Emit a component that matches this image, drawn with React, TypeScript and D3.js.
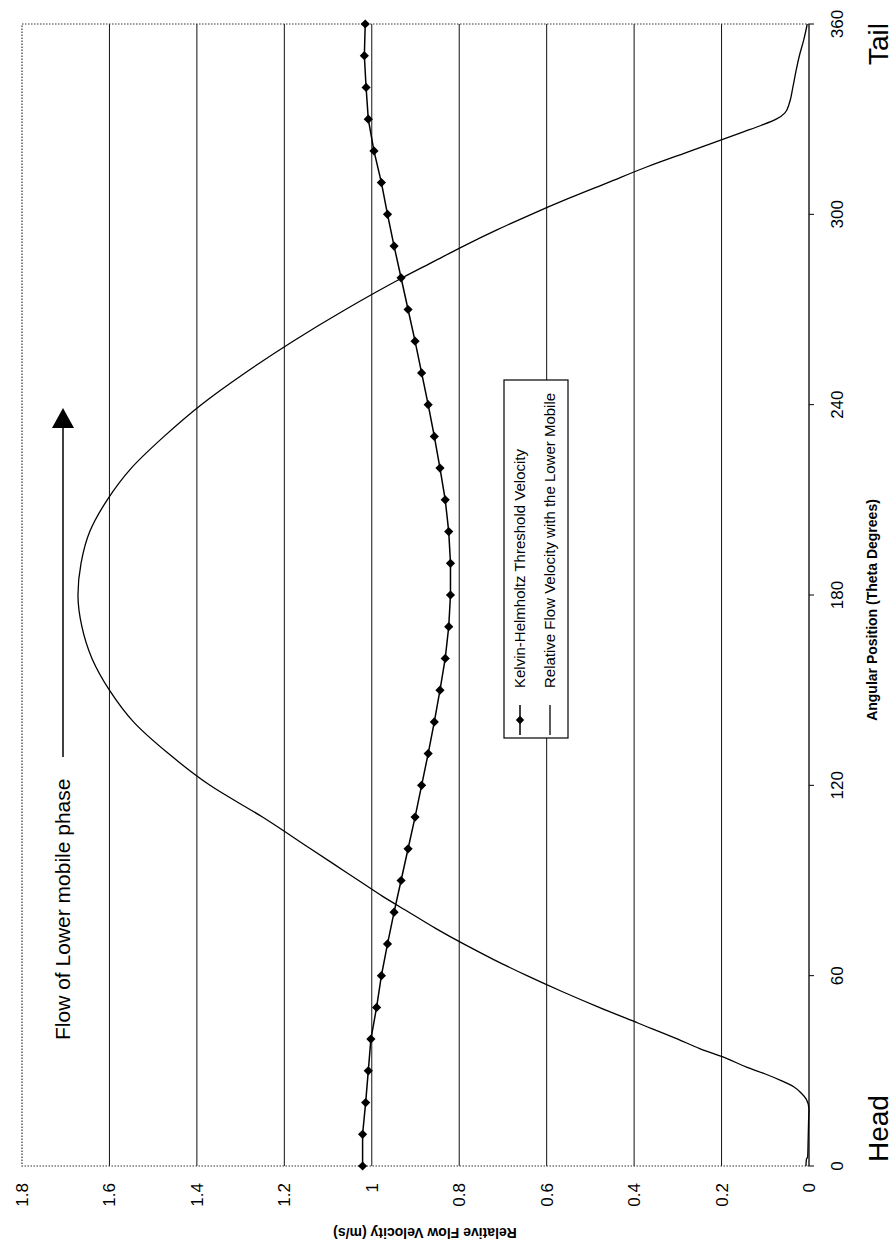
import React from "react";
import * as d3 from "d3";

// ---- data ----
const angleTicks = [0, 60, 120, 180, 240, 300, 360];
const velocityTicks = [0, 0.2, 0.4, 0.6, 0.8, 1, 1.2, 1.4, 1.6, 1.8];
const velocityTickLabels = ["0", "0.2", "0.4", "0.6", "0.8", "1", "1.2", "1.4", "1.6", "1.8"];

const khAngles = [0, 10, 20, 30, 40, 50, 60, 70, 80, 90, 100, 110, 120, 130, 140, 150, 160, 170, 180,
  190, 200, 210, 220, 230, 240, 250, 260, 270, 280, 290, 300, 310, 320, 330, 340, 350, 360];
const khVelocity = [1.021, 1.021, 1.014, 1.008, 1.002, 0.989, 0.978, 0.964, 0.949, 0.933, 0.917, 0.901,
  0.886, 0.871, 0.857, 0.844, 0.832, 0.824, 0.820, 0.820, 0.824, 0.832, 0.844, 0.857, 0.871, 0.886,
  0.901, 0.917, 0.933, 0.949, 0.964, 0.978, 0.995, 1.008, 1.013, 1.017, 1.015];

const flowAngles = [0, 2, 3, 8, 14, 18, 21, 23, 25, 27, 29, 31, 34, 37, 40, 45, 50, 55, 60, 65, 70, 75,
  80, 85, 90, 95, 100, 110, 120, 130, 140, 150, 160, 170, 180, 190, 200, 210, 220, 230, 240, 250, 260,
  270, 280, 285, 290, 295, 300, 305, 310, 315, 320, 323, 326, 328, 330, 332, 335, 340, 345, 350, 355, 360];
const flowVelocity = [0.007, 0.006, 0.003, 0.002, 0.001, 0.0, 0.006, 0.018, 0.035, 0.065, 0.1, 0.14,
  0.19, 0.25, 0.3, 0.39, 0.48, 0.565, 0.645, 0.72, 0.79, 0.855, 0.915, 0.975, 1.03, 1.085, 1.14, 1.25,
  1.37, 1.465, 1.545, 1.6, 1.64, 1.663, 1.672, 1.665, 1.645, 1.605, 1.55, 1.475, 1.39, 1.29, 1.18, 1.06,
  0.93, 0.86, 0.79, 0.715, 0.635, 0.55, 0.46, 0.37, 0.27, 0.21, 0.15, 0.11, 0.075, 0.055, 0.045, 0.037,
  0.03, 0.022, 0.012, 0.004];

const seriesNames = ["Kelvin-Helmholtz Threshold Velocity", "Relative Flow Velocity with the Lower Mobile"];
const xTitle = "Angular Position (Theta Degrees)";
const yTitle = "Relative Flow Velocity (m/s)";
const flowNote = "Flow of Lower mobile phase";

const W = 1244; // width of unrotated chart
const FONT = "'Liberation Sans', Arial, Helvetica, sans-serif";

export default function App() {
  const left = 78, right = 1220, top = 22, bottom = 809;
  const x = d3.scaleLinear().domain([0, 360]).range([left, right]);
  const y = d3.scaleLinear().domain([0, 1.8]).range([bottom, top]);

  const kh = khAngles.map((a, i) => [a, khVelocity[i]] as [number, number]);
  const flow = flowAngles.map((a, i) => [a, flowVelocity[i]] as [number, number]);

  const line = d3.line<[number, number]>().x(d => x(d[0])).y(d => y(d[1]));
  const smooth = d3.line<[number, number]>().x(d => x(d[0])).y(d => y(d[1])).curve(d3.curveMonotoneX);

  const diamond = (cx: number, cy: number, r = 4.6) =>
    `M${cx},${cy - r}L${cx + r},${cy}L${cx},${cy + r}L${cx - r},${cy}Z`;

  // legend box (unrotated coords)
  const lgX = 506, lgY = 504, lgW = 358, lgH = 64;

  return (
    <svg width={893} height={1244} style={{ position: "absolute", left: 0, top: 0, background: "#fff" }}
      fontFamily={FONT}>
      <rect x={0} y={0} width={893} height={1244} fill="#fff" />
      <g transform={`translate(0,${W}) rotate(-90)`}>
        {/* gridlines */}
        {velocityTicks.filter(t => t > 0 && t < 1.8).map(t => (
          <line key={"g" + t} x1={left} x2={right} y1={y(t)} y2={y(t)} stroke="#111" strokeWidth={1} />
        ))}
        {/* plot border dotted */}
        <path d={`M${left},${bottom}V${top}H${right}V${bottom}`} fill="none" stroke="#333"
          strokeWidth={1.2} strokeDasharray="1.5,1.5" />
        {/* x axis */}
        <line x1={left} x2={right} y1={bottom} y2={bottom} stroke="#000" strokeWidth={1.3} />
        {angleTicks.map(t => (
          <g key={"xt" + t}>
            <line x1={x(t)} x2={x(t)} y1={bottom} y2={bottom + 5} stroke="#000" strokeWidth={1} />
            <text x={x(t)} y={bottom + 34} textAnchor="middle" fontSize={17}>{t}</text>
          </g>
        ))}
        {velocityTicks.map((t, i) => (
          <text key={"yt" + t} x={61} y={y(t) + 6} textAnchor="end" fontSize={17}>{velocityTickLabels[i]}</text>
        ))}
        <text x={634} y={877} textAnchor="middle" fontSize={14} fontWeight="bold">{xTitle}</text>
        <text transform={`translate(16,425) rotate(-90)`} textAnchor="middle" fontSize={14} fontWeight="bold">{yTitle}</text>

        {/* series */}
        <path d={smooth(flow) || ""} fill="none" stroke="#000" strokeWidth={1.3} />
        <path d={line(kh) || ""} fill="none" stroke="#000" strokeWidth={1.5} />
        {kh.map((d, i) => (
          <path key={"m" + i} d={diamond(x(d[0]), y(d[1]))} fill="#000" />
        ))}

        {/* legend */}
        <rect x={lgX} y={lgY} width={lgW} height={lgH} fill="#fff" stroke="#000" strokeWidth={1.2} />
        <line x1={lgX + 3} x2={lgX + 33} y1={lgY + 16} y2={lgY + 16} stroke="#000" strokeWidth={1.5} />
        <path d={diamond(lgX + 18, lgY + 16, 4.2)} fill="#000" />
        <text x={lgX + 50} y={lgY + 21} fontSize={15}>{seriesNames[0]}</text>
        <line x1={lgX + 3} x2={lgX + 33} y1={lgY + 46} y2={lgY + 46} stroke="#000" strokeWidth={1.3} />
        <text x={lgX + 50} y={lgY + 51} fontSize={15}>{seriesNames[1]}</text>

        {/* flow annotation */}
        <text x={204} y={70} fontSize={21}>{flowNote}</text>
        <line x1={487} x2={818} y1={63} y2={63} stroke="#000" strokeWidth={1.5} />
        <path d="M816,52L836,63L816,74Z" fill="#000" />

        <text x={82} y={888} fontSize={28}>Head</text>
        <text x={1179} y={888} fontSize={28}>Tail</text>
      </g>
    </svg>
  );
}
